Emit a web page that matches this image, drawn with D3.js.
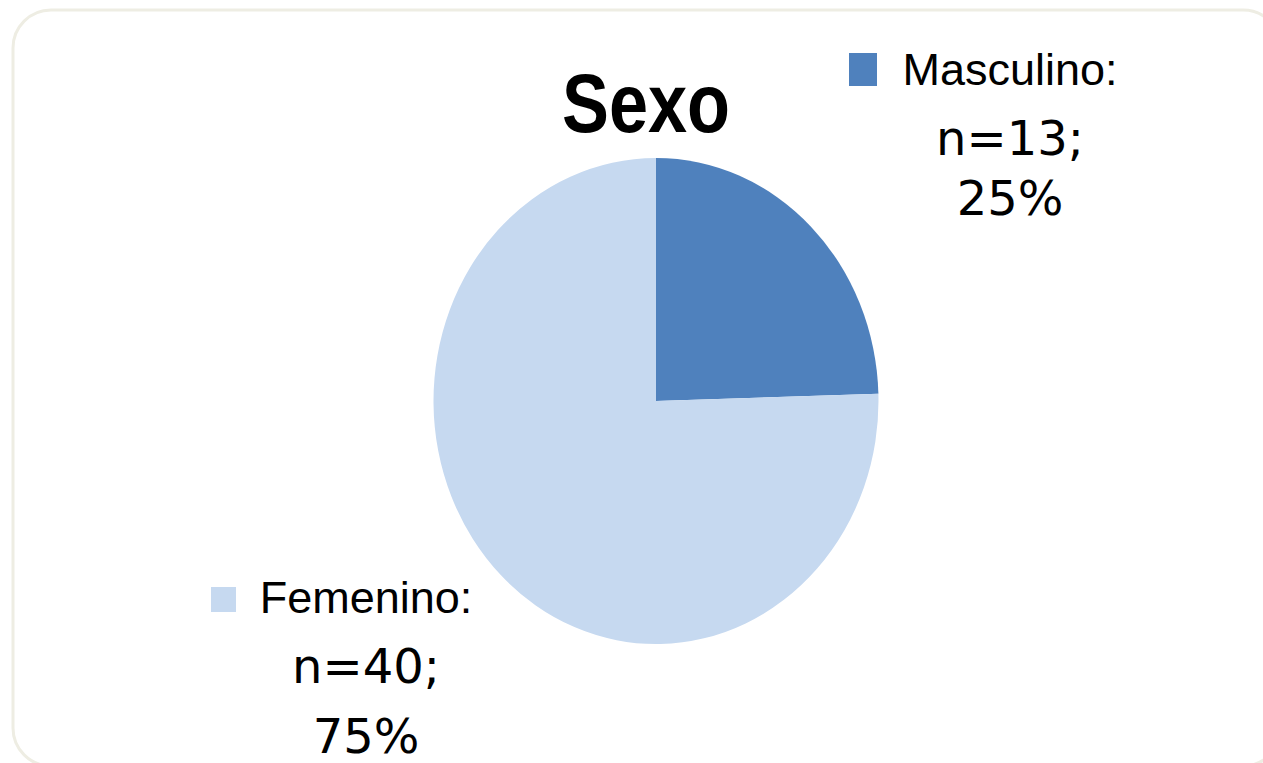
<!DOCTYPE html>
<html>
<head>
<meta charset="utf-8">
<script src="https://cdn.jsdelivr.net/npm/d3@7"></script>
<style>
  body { margin: 0; background: #fff; }
  svg { display: block; }
</style>
</head>
<body>
<svg id="svg" width="1263" height="763"></svg>
<script>
// data
var categories = ["Masculino", "Femenino"];
var counts = [13, 40];
var percents = ["25%", "75%"];
var colors = ["#4f81bd", "#c6d9f0"];

var svg = d3.select("#svg");

// frame
svg.append("rect")
  .attr("x", 13).attr("y", 10)
  .attr("width", 1268).attr("height", 756)
  .attr("rx", 38).attr("ry", 38)
  .attr("fill", "#fff")
  .attr("stroke", "#eeede3")
  .attr("stroke-width", 3);

// title
svg.append("text")
  .attr("x", 646).attr("y", 132)
  .attr("text-anchor", "middle")
  .attr("font-family", "'Liberation Sans', sans-serif")
  .attr("font-weight", "bold")
  .attr("font-size", 84)
  .attr("textLength", 168)
  .attr("lengthAdjust", "spacingAndGlyphs")
  .attr("fill", "#000")
  .text("Sexo");

// pie (the picture is stretched vertically a bit)
var rx = 222.5, ry = 243;
var pie = d3.pie().sort(null);
var arc = d3.arc().innerRadius(0).outerRadius(rx);

var g = svg.append("g")
  .attr("transform", "translate(656,401) scale(1," + (ry / rx) + ")");

g.selectAll("path")
  .data(pie(counts))
  .enter().append("path")
  .attr("d", arc)
  .attr("fill", function(d, i){ return colors[i]; });

// labels with legend key
var labelPos = [
  {key: [849, 53, 28, 33], cx: 1010, y: [85, 155, 215]},
  {key: [211, 587, 25, 25], cx: 366, y: [613, 683, 753]}
];

categories.forEach(function(c, i){
  var p = labelPos[i];
  svg.append("rect")
    .attr("x", p.key[0]).attr("y", p.key[1])
    .attr("width", p.key[2]).attr("height", p.key[3])
    .attr("fill", colors[i]);

  var lines = [c + ":", "n=" + counts[i] + ";", percents[i]];
  lines.forEach(function(t, j){
    svg.append("text")
      .attr("x", p.cx).attr("y", p.y[j])
      .attr("text-anchor", "middle")
      .attr("font-family", j == 0 ? "'Liberation Sans', sans-serif" : "'DejaVu Sans', sans-serif")
      .attr("font-size", j == 0 ? 45 : 48)
      .attr("fill", "#000")
      .text(t);
  });
});
</script>
</body>
</html>
